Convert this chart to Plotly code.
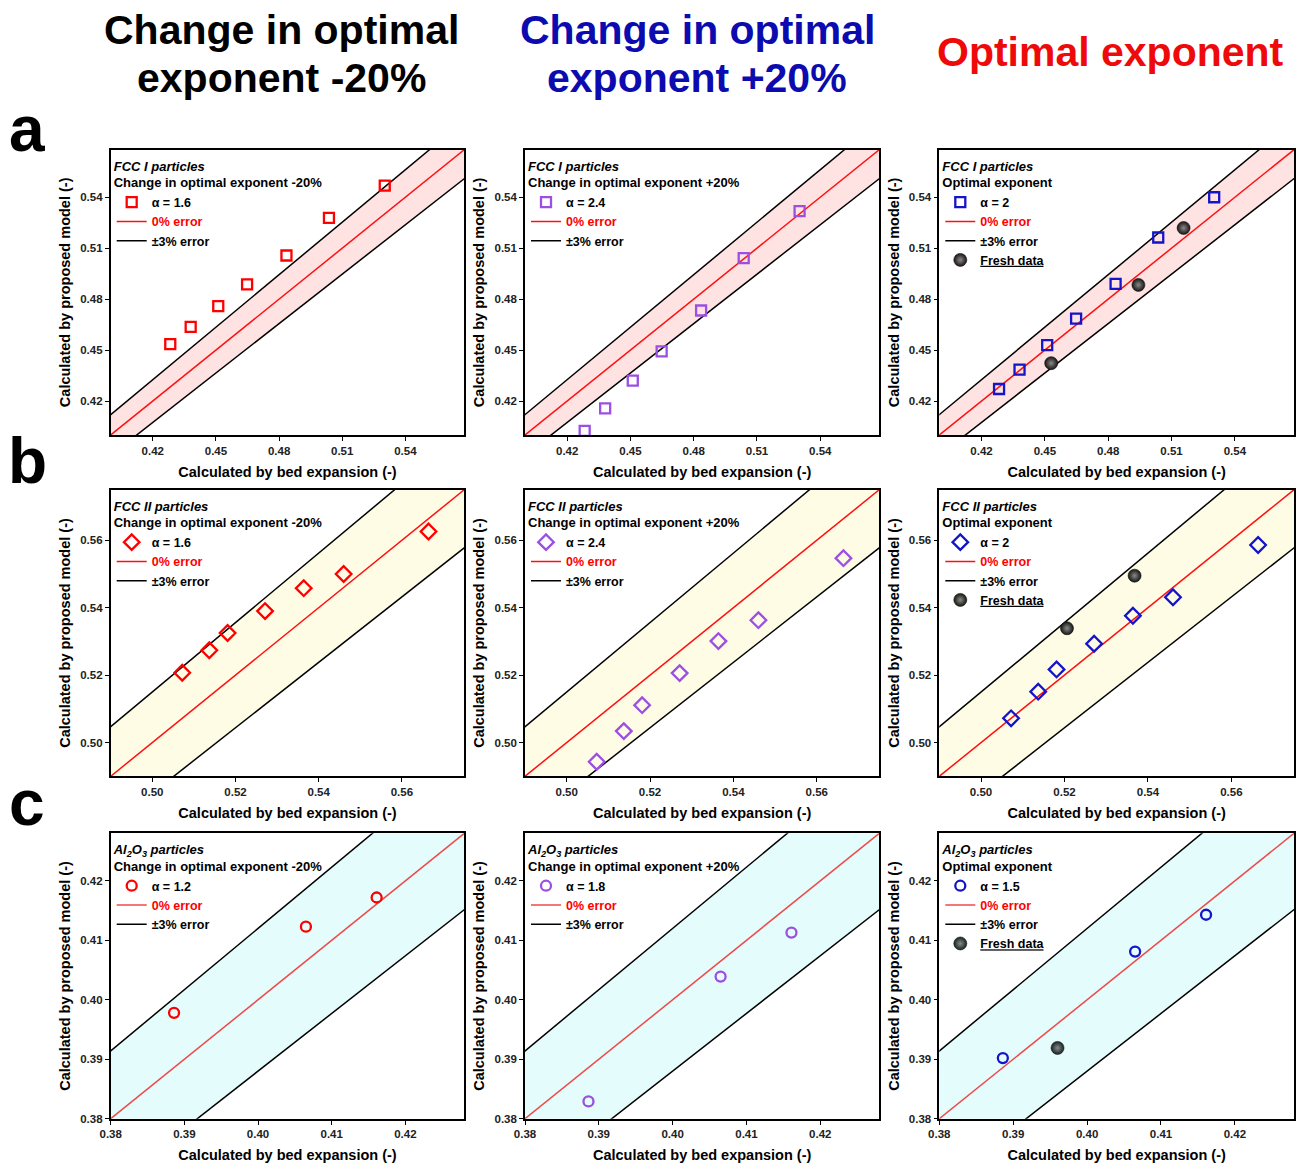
import plotly.graph_objects as go

W, H = 1297, 1165
FONT = "Liberation Sans, Arial, sans-serif"

# ---------------- data ----------------
fcc1_x = [0.4283, 0.4380, 0.4511, 0.4648, 0.4835, 0.5037, 0.5302]
fcc1_m20 = [0.4535, 0.4637, 0.4759, 0.4887, 0.5057, 0.5278, 0.5469]
fcc1_p20 = [0.4024, 0.4157, 0.4320, 0.4492, 0.4733, 0.5041, 0.5318]
fcc1_opt = [0.4271, 0.4385, 0.4529, 0.4685, 0.4890, 0.5163, 0.5400]
fcc1_fresh_x = [0.4530, 0.4943, 0.5157]
fcc1_fresh_y = [0.4423, 0.4884, 0.5219]

fcc2_x = [0.5072, 0.5137, 0.5181, 0.5271, 0.5364, 0.5460, 0.5664]
fcc2_m20 = [0.5207, 0.5274, 0.5325, 0.5390, 0.5458, 0.5500, 0.5626]
fcc2_p20 = [0.4943, 0.5034, 0.5111, 0.5206, 0.5301, 0.5363, 0.5547]
fcc2_opt = [0.5072, 0.5151, 0.5217, 0.5293, 0.5376, 0.5431, 0.5586]
fcc2_fresh_x = [0.5206, 0.5368]
fcc2_fresh_y = [0.5339, 0.5495]

al_x = [0.3886, 0.4065, 0.4161]
al_m20 = [0.3978, 0.4123, 0.4172]
al_p20 = [0.3829, 0.4039, 0.4113]
al_opt = [0.3902, 0.4081, 0.4143]
al_fresh_x = [0.3960]
al_fresh_y = [0.3919]

row_ranges = [[0.40, 0.568], [0.49, 0.575], [0.38, 0.428]]
row_tick0 = [0.42, 0.50, 0.38]
row_dtick = [0.03, 0.02, 0.01]
row_band = ["rgb(255,226,226)", "rgb(255,252,230)", "rgb(228,252,252)"]
row_zero_color = ["#ff1010", "#ff1010", "#f04848"]
row_particles = ["<i>FCC I particles</i>", "<i>FCC II particles</i>",
                 "<i>Al<sub>2</sub>O<sub>3</sub> particles</i>"]
row_symbols = ["square-open", "diamond-open", "circle-open"]
row_sizes = [10, 12, 10]
row_fresh_color = ["#1c1414", "#161612", "#182424"]

col_subtitles = ["Change in optimal exponent -20%", "Change in optimal exponent +20%",
                 "Optimal exponent"]
col_colors = ["#ff0000", "#9b4fe3", "#1414c8"]
alphas = [["1.6", "2.4", "2"], ["1.6", "2.4", "2"], ["1.2", "1.8", "1.5"]]

xs = [fcc1_x, fcc2_x, al_x]
ys = [[fcc1_m20, fcc1_p20, fcc1_opt], [fcc2_m20, fcc2_p20, fcc2_opt], [al_m20, al_p20, al_opt]]
fresh = [(fcc1_fresh_x, fcc1_fresh_y), (fcc2_fresh_x, fcc2_fresh_y), (al_fresh_x, al_fresh_y)]
err = 0.03

# ---------------- layout geometry (pixels) ----------------
col_px = [(110.7, 464.3), (525.0, 879.3), (939.3, 1294.0)]
row_px = [(149.7, 435.0), (489.7, 776.3), (833.3, 1118.7)]

fig = go.Figure()
layout = dict(width=W, height=H, margin=dict(l=0, r=0, t=0, b=0, autoexpand=False),
              paper_bgcolor="white", plot_bgcolor="white",
              font=dict(family=FONT, color="black"), annotations=[])

k = 0
for r in range(3):
    lo, hi = row_ranges[r]
    for c in range(3):
        k += 1
        sfx = "" if k == 1 else str(k)
        xa, ya = "x" + sfx, "y" + sfx
        leg = "legend" + sfx
        x0p, x1p = col_px[c]
        y0p, y1p = row_px[r]
        dx = [x0p / W, x1p / W]
        dy = [1 - y1p / H, 1 - y0p / H]
        axis_common = dict(range=[lo, hi], showline=True, mirror=True, linecolor="black",
                           linewidth=1.6, ticks="outside", ticklen=4, tickwidth=1.3,
                           tickcolor="black", showgrid=False, zeroline=False,
                           automargin=False,
                           tick0=row_tick0[r], dtick=row_dtick[r], tickformat=".2f",
                           tickfont=dict(size=11.5, family=FONT, weight="bold", color="#222"))
        layout["xaxis" + sfx] = dict(axis_common, domain=dx, anchor=ya,
                                     title=dict(text="Calculated by bed expansion (-)",
                                                font=dict(size=14.5, family=FONT, weight="bold"),
                                                standoff=11))
        layout["yaxis" + sfx] = dict(axis_common, domain=dy, anchor=xa,
                                     title=dict(text="Calculated by proposed model (-)",
                                                font=dict(size=14.5, family=FONT, weight="bold"),
                                                standoff=6))
        # band
        ext = [lo - 0.05, hi + 0.05]
        fig.add_trace(go.Scatter(
            x=[ext[0], ext[1], ext[1], ext[0], ext[0]],
            y=[ext[0] * (1 + err), ext[1] * (1 + err), ext[1] * (1 - err), ext[0] * (1 - err), ext[0] * (1 + err)],
            fill="toself", fillcolor=row_band[r], mode="lines", line=dict(width=0),
            showlegend=False, hoverinfo="skip", xaxis=xa, yaxis=ya, legend=leg))
        # +-3% lines
        fig.add_trace(go.Scatter(x=ext, y=[v * (1 + err) for v in ext], mode="lines",
                                 line=dict(color="black", width=1.5), name="±3% error",
                                 legendgroup="e%d" % k, legendrank=3,
                                 xaxis=xa, yaxis=ya, legend=leg))
        fig.add_trace(go.Scatter(x=ext, y=[v * (1 - err) for v in ext], mode="lines",
                                 line=dict(color="black", width=1.5), showlegend=False,
                                 legendgroup="e%d" % k, xaxis=xa, yaxis=ya, legend=leg))
        # 0% line
        fig.add_trace(go.Scatter(x=ext, y=ext, mode="lines",
                                 line=dict(color=row_zero_color[r], width=1.5),
                                 name="<span style='color:#ff0000'>0% error</span>",
                                 legendrank=2, xaxis=xa, yaxis=ya, legend=leg))
        # data
        fig.add_trace(go.Scatter(x=xs[r], y=ys[r][c], mode="markers",
                                 marker=dict(symbol=row_symbols[r], size=row_sizes[r],
                                             color=col_colors[c], line=dict(width=2.3)),
                                 name="α = " + alphas[r][c], legendrank=1,
                                 xaxis=xa, yaxis=ya, legend=leg))
        if c == 2:
            fx, fy = fresh[r]
            fig.add_trace(go.Scatter(x=fx, y=fy, mode="markers",
                                     marker=dict(symbol="circle", size=13, color=row_fresh_color[r],
                                                 gradient=dict(type="radial", color="#8a8a8a"),
                                                 line=dict(width=0.6, color="#111")),
                                     name="<u>Fresh data</u>", legendrank=4,
                                     xaxis=xa, yaxis=ya, legend=leg))
        layout[leg] = dict(x=dx[0] + 1 / W, y=dy[1] - 4 / H, xanchor="left", yanchor="top",
                           bgcolor="rgba(0,0,0,0)", borderwidth=0, tracegroupgap=0,
                           itemwidth=30, traceorder="normal",
                           font=dict(size=12.5, family=FONT, weight="bold", color="black"),
                           title=dict(text=row_particles[r] + "<br>" + col_subtitles[c], side="top",
                                      font=dict(size=13, family=FONT, weight="bold")))

# column headers
head_lines = [["Change in optimal", "exponent -20%"],
              ["Change in optimal", "exponent +20%"],
              ["Optimal exponent"]]
head_colors = ["#000000", "#0b0bb0", "#ee0a0a"]
head_x = [281, 697, 1110]
for i in range(3):
    lines = head_lines[i]
    ycs = [30, 78] if len(lines) == 2 else [52]
    for t, yc in zip(lines, ycs):
        layout["annotations"].append(dict(
            text=t, x=head_x[i] / W, y=1 - yc / H, xref="paper", yref="paper",
            xanchor="center", yanchor="middle", showarrow=False,
            font=dict(size=41, family=FONT, weight="bold", color=head_colors[i])))

for letter, yc in zip(["a", "b", "c"], [129, 461, 803]):
    layout["annotations"].append(dict(
        text=letter, x=27 / W, y=1 - yc / H, xref="paper", yref="paper",
        xanchor="center", yanchor="middle", showarrow=False,
        font=dict(size=64, family=FONT, weight="bold", color="black")))

fig.update_layout(**layout)
fig.write_html("out.html")
